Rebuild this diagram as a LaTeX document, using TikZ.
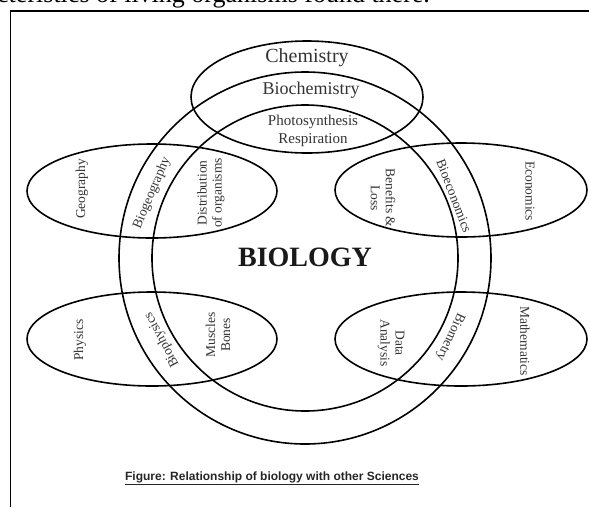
\documentclass[tikz,border=0pt]{standalone}
\usepackage{fontspec}
\setmainfont{Liberation Serif}
\newfontfamily\capfont{Liberation Sans}
\usetikzlibrary{positioning}

\begin{document}
\begin{tikzpicture}[x=1pt,y=-1pt,
      ring/.style={line width=1.6pt},
      lbl/.style={align=center,inner sep=0pt,text=black!80,
                  font=\fontsize{13.5}{15}\selectfont},
      lblup/.style={lbl,rotate=90},
      lbldown/.style={lbl,rotate=-90}]
    \useasboundingbox (0,0) rectangle (589,507);
    \node[anchor=base west,inner sep=0pt,font=\fontsize{26}{28}\selectfont] (pagetext)
      at (-3,2) {cteristics of living organisms found there.};
    \draw[line width=1.2pt] (589,11) -- (10.5,11) -- (10.5,507);

    \coordinate (bioc) at (305,258);
    \coordinate (chemc) at (307,97);
    \coordinate (geoc) at (152,191);
    \coordinate (ecoc) at (461,190);
    \coordinate (phyc) at (152,339);
    \coordinate (mathc) at (461,339);
    \draw[ring] (bioc) circle [radius=186];
    \draw[ring] (bioc) circle [radius=153];
    \draw[ring] (chemc) ellipse [x radius=116,y radius=56];
    \draw[ring] (geoc) ellipse [x radius=125,y radius=47];
    \draw[ring] (ecoc) ellipse [x radius=126,y radius=47];
    \draw[ring] (phyc) ellipse [x radius=125,y radius=47];
    \draw[ring] (mathc) ellipse [x radius=126,y radius=47];

    \node[lbl,font=\fontsize{20}{22}\selectfont] (chem) at (307,58) {Chemistry};
    \node[lbl,font=\fontsize{18}{20}\selectfont] (biochem) at (311,90) {Biochemistry};
    \node[lbl,font=\fontsize{15}{18}\selectfont] (photo) at (313,131) {Photosynthesis\\Respiration};
    \node[lbl,text=black!90,font=\fontsize{28}{30}\selectfont\bfseries] (biology)
      at (305,257) {BIOLOGY};

    \node[lblup] (geo) at (82,189) {Geography};
    \node[lbl,rotate=67] (biogeo) at (152,193) {Biogeography};
    \node[lblup] (distrib) at (211,193) {Distribution\\of organisms};
    \node[lbldown] (benefit) at (383,198) {Benefits \&\\Loss};
    \node[lbl,rotate=-69] (bioeco) at (454,196) {Bioeconomics};
    \node[lbldown] (eco) at (530,191) {Economics};

    \node[lblup] (phy) at (80,340) {Physics};
    \node[lbl,rotate=118] (biophy) at (162,340) {Biophysics};
    \node[lblup] (muscle) at (218,335) {Muscles\\Bones};
    \node[lbldown] (data) at (391,343) {Data\\Analysis};
    \node[lbl,rotate=-115] (biomet) at (450,337) {Biometry};
    \node[lbldown] (math) at (525,341) {Mathematics};

    \node[inner sep=0pt,text=black!85,font=\capfont\bfseries\fontsize{12}{14}\selectfont] (caption)
      at (272,478) {\underline{Figure: Relationship of biology with other Sciences}};
  \end{tikzpicture}
\end{document}
